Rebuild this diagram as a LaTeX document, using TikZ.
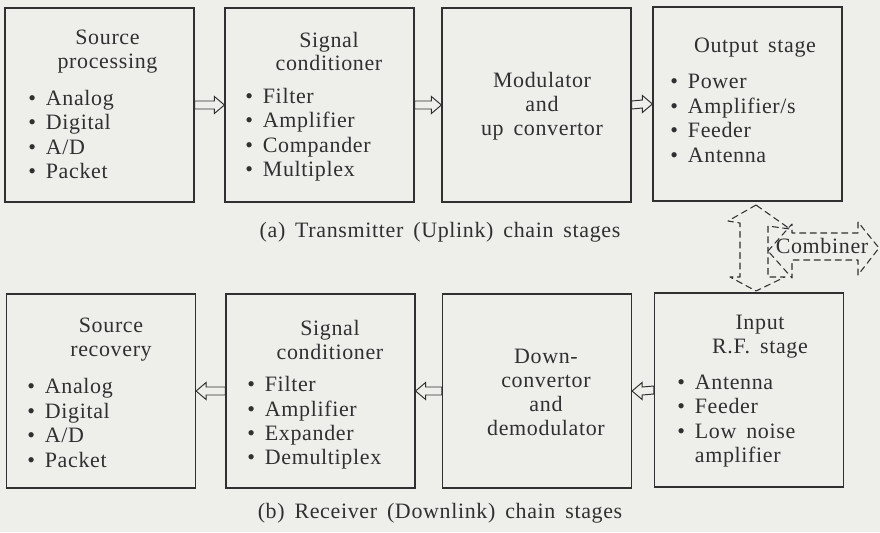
\documentclass[tikz,border=0pt]{standalone}
\usepackage{fontspec}
\setmainfont{Liberation Serif}[LetterSpace=3,WordSpace=1.6]
\usetikzlibrary{calc}
\definecolor{ink}{RGB}{48,48,48}
\definecolor{paper}{RGB}{238,238,235}
\tikzset{
  stage/.style={draw=ink,line width=0.7pt,minimum width=3.78cm,minimum height=3.88cm,inner sep=0pt},
  stagehead/.style={align=center,inner sep=0pt,text=ink,font=\fontsize{12.5}{13.6}\selectfont},
  stagelist/.style={align=left,inner sep=0pt,text=ink,font=\fontsize{12.5}{13.9}\selectfont},
  hollow/.style={draw=ink,line width=0.55pt,to path={
    ($(\tikztostart)+(0,-4)$) -- ($(\tikztotarget)+({-(#1)},-4)$) -- ($(\tikztotarget)+({-(#1)},-8.5)$)
    -- (\tikztotarget) -- ($(\tikztotarget)+({-(#1)},8.5)$) -- ($(\tikztotarget)+({-(#1)},4)$)
    -- ($(\tikztostart)+(0,4)$) -- cycle}},
  hollow/.default=10,
  combi/.style={draw=ink,line width=0.6pt,dash pattern=on 3.5pt off 2.5pt,line join=round}
}
\newcommand{\bul}{\textbullet\ }
\begin{document}
\begin{tikzpicture}[x=0.02cm,y=-0.02cm,line cap=round]
  \fill[paper] (0,0) rectangle (880,532);
  % transmitter chain
  \node[stage] (t1) at (99.5,105) {};
  \node[stage] (t2) at (319.5,105) {};
  \node[stage] (t3) at (536.5,105) {};
  \node[stage] (t4) at (747.5,104) {};
  \node[stagehead] (t1h) at (107.5,51.5) {Source\\processing};
  \node[stagelist,anchor=west] (t1l) at (28,134.5) {\bul Analog\\\bul Digital\\\bul A/D\\\bul Packet};
  \node[stagehead] (t2h) at (329,51.5) {Signal\\conditioner};
  \node[stagelist,anchor=west] (t2l) at (245,134.5) {\bul Filter\\\bul Amplifier\\\bul Compander\\\bul Multiplex};
  \node[stagehead] (t3h) at (542,106.5) {Modulator\\and\\up convertor};
  \node[stagehead] (t4h) at (755,48) {Output stage};
  \node[stagelist,anchor=west] (t4l) at (670,118.5) {\bul Power\\\bul Amplifier/s\\\bul Feeder\\\bul Antenna};
  \draw[hollow] (t1.east) to (t2.west);
  \draw[hollow] (t2.east) to (t3.west);
  \draw[hollow] (t3.east) to (t4.west);
  \node[stagehead] (capa) at (440,232) {(a) Transmitter (Uplink) chain stages};
  % receiver chain
  \node[stage] (b1) at (101,391) {};
  \node[stage] (b2) at (320.5,391) {};
  \node[stage] (b3) at (537,391) {};
  \node[stage] (b4) at (749,390) {};
  \node[stagehead] (b1h) at (111,340) {Source\\recovery};
  \node[stagelist,anchor=west] (b1l) at (27,423) {\bul Analog\\\bul Digital\\\bul A/D\\\bul Packet};
  \node[stagehead] (b2h) at (330,340) {Signal\\conditioner};
  \node[stagelist,anchor=west] (b2l) at (247,423) {\bul Filter\\\bul Amplifier\\\bul Expander\\\bul Demultiplex};
  \node[stagehead] (b3h) at (546,392.5) {Down-\\convertor\\and\\demodulator};
  \node[stagehead] (b4h) at (760,337) {Input\\R.F. stage};
  \node[stagelist,anchor=west] (b4l) at (677,421) {\bul Antenna\\\bul Feeder\\\bul Low noise\\\hphantom{\bul}amplifier};
  \draw[hollow=-10] (b4.west) to (b3.east);
  \draw[hollow=-10] (b3.west) to (b2.east);
  \draw[hollow=-10] (b2.west) to (b1.east);
  \node[stagehead] (capb) at (440,513) {(b) Receiver (Downlink) chain stages};
  % combiner
  \draw[combi] (756,205) -- (728,221) -- (740,223) -- (740,277) -- (730,277) -- (756,291)
    -- (785,277) -- (768,277) -- (768,226) -- (790,229) -- cycle;
  \draw[combi] (768,251) -- (792,224) -- (792,233) -- (858,233) -- (858,222) -- (879,248)
    -- (858,275) -- (858,260) -- (792,260) -- (792,278) -- cycle;
  \node[stagehead] (comb) at (822,246) {Combiner};
\end{tikzpicture}
\end{document}
